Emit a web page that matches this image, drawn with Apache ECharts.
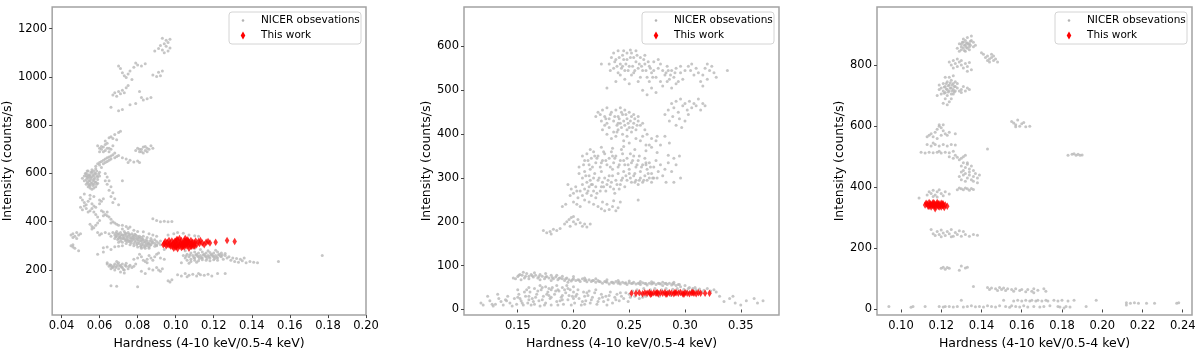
<!DOCTYPE html>
<html>
<head>
<meta charset="utf-8">
<script src="https://cdn.jsdelivr.net/npm/echarts@6.0.0/dist/echarts.min.js"></script>
<style>
  body { margin: 0; background: #fff; }
  #chart { width: 1200px; height: 355px; }
</style>
</head>
<body>
<div id="chart"></div>
<script>
// panel 1: hardness vs intensity, NICER points
var nicer1 = [
  [0.093,1160],[0.095,1152],[0.097,1156],[0.096,1143],[0.094,1138],[0.092,1130],[0.095,1127],[0.097,1120],[0.091,1118],[0.093,1112],[0.096,1108],[0.089,1108],[0.094,1100],
  [0.070,1045],[0.071,1035],[0.072,1018],[0.073,1005],[0.074,998],[0.075,1012],[0.076,1025],[0.078,1040],[0.079,1058],[0.080,1050],[0.082,1045],[0.077,990],[0.084,1055],
  [0.088,1008],[0.090,1002],[0.091,1020],[0.093,1025],[0.092,1005],
  [0.067,925],[0.068,935],[0.069,920],[0.070,940],[0.071,930],[0.072,945],[0.074,955],[0.075,965],[0.073,935],
  [0.081,940],[0.082,915],[0.083,905],[0.085,910],[0.087,915],
  [0.066,875],[0.070,860],[0.072,865],[0.076,885],[0.079,890],
  [0.063,735],[0.065,748],[0.066,752],[0.067,745],[0.068,762],[0.070,770],[0.071,775],[0.069,740],[0.064,725],
  [0.059,715],[0.060,705],[0.061,700],[0.062,710],[0.063,695],[0.064,705],[0.065,690],[0.066,700],[0.062,690],[0.060,690],[0.067,715],[0.068,685],[0.063,720],[0.061,712],[0.065,705],
  [0.079,695],[0.080,705],[0.081,690],[0.082,700],[0.083,710],[0.084,695],[0.085,705],[0.086,700],[0.087,715],[0.088,705],[0.083,685],[0.081,700],[0.085,690],[0.084,712],[0.082,690],
  [0.072,665],[0.074,660],[0.076,655],[0.078,648],[0.080,652],[0.081,645],[0.075,645],[0.070,675],[0.069,670],
  [0.058,630],[0.059,640],[0.060,645],[0.061,650],[0.062,655],[0.063,660],[0.064,665],[0.065,668],[0.066,672],[0.067,678],[0.060,635],[0.062,640],[0.064,650],[0.066,660],[0.068,665],[0.061,625],[0.063,645],[0.065,655],
  [0.052,590],[0.053,600],[0.054,610],[0.055,595],[0.056,605],[0.057,590],[0.058,600],[0.059,585],[0.053,575],[0.054,580],[0.055,570],[0.056,585],[0.057,575],[0.058,565],[0.059,575],[0.060,590],[0.054,560],[0.055,550],[0.056,560],[0.057,555],[0.058,545],[0.055,540],[0.056,535],[0.053,555],[0.052,570],[0.051,580],[0.054,595],[0.056,615],[0.058,620],[0.060,605],[0.057,610],[0.055,585],[0.059,560],[0.053,590],[0.057,540],[0.054,545],
  [0.0525,600],[0.0535,585],[0.0545,570],[0.0555,605],[0.0565,595],[0.0575,580],[0.0585,590],[0.0595,598],[0.0535,565],[0.0545,590],[0.0555,560],[0.0565,570],[0.0575,565],[0.0585,555],[0.0545,552],[0.0555,578],[0.0565,550],[0.0575,600],[0.0585,610],[0.0535,610],
  [0.063,600],[0.064,585],[0.065,570],[0.064,555],[0.066,545],[0.065,530],[0.067,520],[0.066,505],[0.068,495],[0.067,480],[0.063,570],[0.070,470],[0.072,570],
  [0.050,500],[0.051,490],[0.052,480],[0.053,470],[0.054,485],[0.055,495],[0.056,475],[0.057,465],[0.050,460],[0.051,450],[0.053,455],[0.055,445],[0.057,440],[0.058,430],[0.059,420],[0.056,455],[0.054,440],[0.052,465],[0.060,490],[0.061,485],[0.062,495],[0.060,475],[0.058,460],[0.052,515],[0.055,510],[0.057,505],
  [0.055,390],[0.056,380],[0.057,375],[0.058,385],[0.056,370],[0.059,395],[0.060,405],
  [0.061,445],[0.062,440],[0.063,430],[0.064,425],[0.065,420],[0.066,410],[0.067,400],[0.068,395],[0.069,390],[0.070,385],[0.072,385],[0.074,380],[0.076,378],[0.066,395],[0.064,440],[0.062,425],
  [0.068,345],[0.069,340],[0.070,350],[0.071,335],[0.072,345],[0.073,330],[0.074,340],[0.075,325],[0.076,335],[0.077,320],[0.078,330],[0.079,315],[0.080,325],[0.081,310],[0.082,320],[0.083,305],[0.084,315],[0.085,300],[0.086,310],[0.087,305],[0.088,315],
  [0.070,330],[0.071,320],[0.072,315],[0.073,345],[0.074,325],[0.075,340],[0.076,320],[0.077,335],[0.078,310],[0.079,335],[0.080,310],[0.081,330],[0.082,305],[0.083,325],[0.084,300],[0.085,320],
  [0.0685,338],[0.0695,326],[0.0705,342],[0.0715,328],[0.0725,338],[0.0735,322],[0.0745,333],[0.0755,318],[0.0765,328],[0.0775,342],[0.0785,322],[0.0795,328],[0.0805,318],[0.0815,322],[0.0825,312],[0.0835,318],[0.0845,308],[0.0855,312],[0.0865,320],[0.0875,312],
  [0.0685,352],[0.0695,348],[0.0705,336],[0.0715,346],[0.0725,330],[0.0735,352],[0.0745,318],[0.0755,348],[0.0765,312],[0.0775,328],[0.0785,348],[0.0795,305],[0.0805,335],[0.0815,298],[0.0825,328],[0.0835,295],[0.0845,325],[0.0855,308],[0.0865,302],[0.0875,322],
  [0.0890,310],[0.0900,318],[0.0910,312],[0.0920,320],[0.0890,298],[0.0900,305],
  [0.067,355],[0.069,360],[0.071,355],[0.073,360],[0.075,355],[0.077,350],[0.079,345],[0.081,340],[0.083,340],[0.085,335],[0.087,330],[0.089,325],
  [0.072,300],[0.074,310],[0.076,305],[0.078,300],[0.080,295],[0.082,290],[0.084,290],[0.086,295],
  [0.066,340],[0.068,330],[0.070,315],[0.065,350],[0.063,355],[0.061,350],[0.060,345],[0.059,355],
  [0.072,370],[0.075,372],[0.078,365],[0.080,360],[0.083,358],[0.086,350],[0.088,345],[0.090,340],
  [0.074,350],[0.076,345],[0.078,340],[0.080,340],[0.082,335],
  [0.045,345],[0.046,350],[0.047,340],[0.048,355],[0.049,345],[0.050,350],[0.046,335],[0.048,330],[0.045,300],[0.046,295],[0.047,290],[0.049,280],[0.046,305],
  [0.064,225],[0.065,215],[0.066,220],[0.067,210],[0.068,225],[0.069,215],[0.070,205],[0.071,220],[0.072,210],[0.073,200],[0.074,215],[0.075,205],[0.076,220],[0.066,205],[0.068,200],[0.070,230],[0.072,225],[0.074,228],[0.077,210],[0.078,215],[0.079,225],[0.064,230],[0.069,235],[0.071,192],[0.073,188],
  [0.0655,222],[0.0675,218],[0.0695,224],[0.0715,212],[0.0735,220],[0.0755,214],[0.0665,212],[0.0685,210],[0.0705,216],[0.0725,202],
  [0.078,245],[0.080,250],[0.082,255],[0.083,240],[0.084,235],[0.085,245],[0.086,260],[0.087,250],[0.088,240],[0.089,255],[0.090,265],[0.091,270],[0.085,230],[0.081,265],[0.092,250],[0.094,245],
  [0.086,205],[0.088,200],[0.090,210],[0.091,200],[0.093,205],[0.092,195],[0.082,195],[0.084,185],
  [0.096,155],[0.097,150],[0.098,160],[0.066,135],[0.069,133],[0.080,130],
  [0.082,295],[0.086,290],[0.090,300],[0.092,305],[0.094,285],[0.095,300],[0.064,295],[0.068,296],[0.070,298],[0.062,292],
  [0.104,260],[0.105,250],[0.106,265],[0.107,255],[0.108,245],[0.109,260],[0.110,250],[0.111,265],[0.112,255],[0.113,260],[0.114,250],[0.115,265],[0.116,255],[0.117,260],[0.118,250],[0.119,265],[0.120,255],[0.121,260],[0.122,250],[0.123,265],[0.124,255],[0.125,245],[0.126,260],[0.127,250],
  [0.1055,258],[0.1075,262],[0.1095,252],[0.1115,258],[0.1135,252],[0.1155,258],[0.1175,255],[0.1195,258],[0.1215,253],[0.1235,258],[0.1105,262],[0.1125,248],[0.1145,262],[0.1165,248],[0.1185,262],[0.1205,248],[0.1225,262],[0.1245,262],
  [0.108,270],[0.110,275],[0.112,270],[0.114,275],[0.116,270],[0.118,272],[0.120,270],[0.122,275],[0.124,270],[0.126,268],
  [0.106,240],[0.108,235],[0.110,240],[0.112,238],[0.114,242],[0.116,240],[0.118,238],[0.120,242],[0.122,240],[0.103,230],[0.107,228],[0.111,232],
  [0.113,285],[0.117,280],[0.121,282],[0.110,290],[0.105,280],
  [0.128,255],[0.130,250],[0.132,248],[0.134,245],[0.129,240],[0.131,235],[0.133,232],[0.135,238],[0.137,230],[0.139,235],[0.141,232],[0.143,230],[0.136,250],
  [0.154,235],[0.177,260],
  [0.101,180],[0.103,175],[0.105,185],[0.107,178],[0.109,182],[0.111,175],[0.113,180],[0.115,178],[0.117,182],[0.119,175],[0.112,185],[0.106,172],[0.122,185],[0.126,185],
  [0.088,412],[0.090,405],[0.092,400],[0.094,402],[0.096,400],[0.098,401],
  [0.096,345],[0.099,350],[0.101,355],[0.104,352],[0.107,345],[0.110,342],[0.112,340],
  [0.062,275],[0.059,265],[0.066,285]
];
var work1 = [
  [0.0935,305],[0.094,310],[0.095,300],[0.0955,315],[0.096,305],[0.097,310],[0.0975,298],[0.098,320],[0.0985,308],[0.099,312],[0.0995,300],[0.100,318],[0.1005,305],[0.101,325],[0.1015,310],[0.102,300],[0.1025,315],[0.103,322],[0.1035,305],[0.104,312],[0.1045,295],[0.105,318],[0.1055,308],[0.106,325],[0.1065,300],[0.107,315],[0.1075,310],[0.108,322],[0.1085,305],[0.109,315],[0.1095,300],[0.110,312],[0.1105,320],[0.111,305],[0.112,318],[0.1125,310],[0.113,322],[0.114,312],[0.115,305],[0.116,315],[0.117,318],[0.118,312],[0.121,315],[0.127,322],[0.131,318],
  [0.100,295],[0.102,330],[0.104,300],[0.106,310],[0.108,298],[0.099,290],[0.101,288],[0.103,293],[0.097,302],[0.105,330],[0.107,290],[0.110,300],
  [0.0945,318],[0.0965,322],[0.0985,298],[0.1005,325],[0.1025,308],[0.1045,320],[0.1065,315],[0.1085,312],[0.1005,298],[0.1035,296],[0.1055,300],[0.0995,318],[0.1015,302],[0.1045,305],[0.1065,322],[0.1085,298]
];

// panel 2
var nicer2 = [
  [0.232,560],[0.234,575],[0.236,585],[0.238,570],[0.240,590],[0.242,560],[0.244,580],[0.246,545],[0.248,570],[0.250,555],[0.252,585],[0.254,540],[0.256,565],[0.258,550],[0.260,575],[0.262,545],[0.264,560],[0.266,530],[0.268,555],[0.270,540],[0.272,565],[0.274,530],[0.276,550],[0.278,520],[0.280,545],[0.282,535],[0.284,555],[0.286,525],[0.288,545],[0.290,530],[0.292,550],[0.294,520],[0.296,540],[0.298,525],[0.300,545],
  [0.236,550],[0.240,540],[0.244,555],[0.248,585],[0.252,535],[0.256,590],[0.260,530],[0.264,580],[0.268,520],[0.272,545],[0.276,570],[0.280,510],[0.284,520],[0.288,505],[0.292,515],[0.296,555],[0.246,525],[0.250,515],[0.254,575],[0.258,520],[0.262,500],[0.266,490],[0.270,505],[0.274,495],[0.278,560],[0.242,535],[0.238,520],[0.233,545],[0.230,505],[0.225,560],
  [0.241,575],[0.243,550],[0.245,570],[0.247,560],[0.249,545],[0.251,575],[0.253,555],[0.255,545],[0.257,580],[0.259,560],[0.261,555],[0.263,570],[0.265,545],[0.267,565],[0.269,550],[0.271,530],[0.245,590],[0.251,592],[0.239,555],[0.237,565],[0.283,540],[0.287,535],[0.291,540],[0.285,545],
  [0.305,545],[0.308,535],[0.310,550],[0.312,540],[0.314,520],[0.316,510],[0.318,550],[0.320,560],[0.322,545],[0.324,555],[0.326,540],[0.328,530],[0.316,535],[0.320,525],[0.338,545],[0.303,555],[0.306,560],
  [0.282,445],[0.285,455],[0.288,470],[0.290,460],[0.292,475],[0.294,450],[0.296,480],[0.298,465],[0.300,470],[0.302,455],[0.304,475],[0.306,460],[0.308,470],[0.310,465],[0.312,480],[0.314,455],[0.316,470],[0.318,465],[0.295,435],[0.292,420],[0.297,415],[0.300,430],[0.289,440],[0.286,430],[0.303,445],
  [0.220,440],[0.222,450],[0.224,445],[0.226,455],[0.228,440],[0.230,460],[0.232,435],[0.234,450],[0.236,430],[0.238,455],[0.240,440],[0.242,425],[0.244,445],[0.246,420],[0.248,435],[0.250,415],[0.252,440],[0.254,425],[0.256,410],[0.258,430],[0.260,420],
  [0.228,420],[0.232,415],[0.236,405],[0.240,410],[0.244,400],[0.248,395],[0.252,405],[0.256,390],[0.238,395],[0.234,390],[0.230,400],[0.226,410],[0.242,460],[0.246,455],[0.250,450],[0.254,445],[0.258,440],[0.262,425],[0.264,410],[0.230,425],[0.240,425],[0.248,410],[0.245,385],[0.250,380],
  [0.237,440],[0.239,420],[0.241,435],[0.243,415],[0.245,430],[0.247,445],[0.249,425],[0.251,430],[0.253,415],[0.255,435],[0.233,445],[0.229,435],[0.225,430],[0.257,420],[0.243,450],[0.239,405],
  [0.262,395],[0.266,400],[0.270,390],[0.274,385],[0.278,375],[0.268,375],[0.260,385],[0.275,395],[0.282,395],[0.286,380],
  [0.208,350],[0.210,340],[0.212,355],[0.214,330],[0.216,345],[0.218,360],[0.220,335],[0.222,350],[0.224,325],[0.226,340],[0.228,355],[0.230,330],[0.232,345],[0.234,360],[0.236,335],[0.238,350],[0.240,325],[0.242,340],[0.244,355],[0.246,330],[0.248,345],[0.250,320],[0.252,335],[0.254,350],[0.256,325],[0.258,340],[0.260,315],[0.262,330],[0.264,345],[0.266,320],[0.268,335],[0.270,310],[0.272,325],[0.274,340],[0.276,315],[0.278,330],[0.280,305],[0.282,320],[0.285,335],[0.288,315],[0.290,345],[0.292,330],
  [0.205,310],[0.208,300],[0.210,315],[0.212,290],[0.214,305],[0.216,285],[0.218,300],[0.220,280],[0.222,295],[0.224,270],[0.226,290],[0.228,300],[0.230,285],[0.232,305],[0.234,290],[0.236,275],[0.238,295],[0.240,310],[0.242,285],[0.244,300],[0.246,280],[0.248,295],[0.250,310],[0.252,290],[0.254,305],[0.256,295],[0.258,285],[0.260,300],[0.262,290],[0.264,305],[0.266,295],[0.268,300],[0.270,290],[0.272,300],
  [0.209,330],[0.213,340],[0.217,325],[0.221,345],[0.225,335],[0.229,340],[0.233,325],[0.237,345],[0.241,330],[0.245,340],[0.249,330],[0.253,340],[0.257,330],[0.261,325],[0.265,335],[0.269,325],
  [0.211,305],[0.215,295],[0.219,310],[0.223,300],[0.227,280],[0.231,295],[0.235,305],[0.239,285],[0.243,295],[0.247,305],[0.251,300],[0.255,290],[0.259,295],[0.263,295],[0.267,310],[0.271,300],
  [0.213,270],[0.217,285],[0.221,265],[0.225,280],[0.229,270],[0.233,280],[0.237,265],[0.241,275],[0.208,285],[0.203,270],
  [0.219,350],[0.227,360],[0.235,350],[0.243,365],[0.251,355],[0.259,350],
  [0.215,365],[0.225,370],[0.235,368],[0.245,372],[0.255,365],[0.265,362],[0.275,358],[0.285,352],[0.295,350],[0.265,375],[0.270,370],
  [0.205,325],[0.215,320],[0.225,315],[0.235,320],[0.245,315],[0.255,310],[0.265,330],[0.275,300],[0.283,290],[0.290,290],[0.296,300],
  [0.195,285],[0.198,275],[0.200,265],[0.202,280],[0.204,255],[0.206,270],[0.208,260],[0.210,250],[0.212,265],[0.214,245],[0.216,260],[0.218,240],[0.220,255],[0.197,260],[0.200,245],[0.203,240],[0.206,235],[0.193,240],[0.190,235],[0.210,275],[0.214,280],[0.218,270],
  [0.222,235],[0.225,230],[0.228,225],[0.230,240],[0.232,228],[0.235,235],[0.238,225],[0.240,232],[0.226,245],[0.236,248],[0.242,245],[0.258,250],
  [0.192,195],[0.194,200],[0.196,205],[0.198,210],[0.200,200],[0.202,195],[0.204,205],[0.206,198],[0.208,190],[0.210,195],[0.212,188],[0.200,212],[0.197,190],[0.215,195],
  [0.173,180],[0.176,175],[0.179,178],[0.182,183],[0.185,180],[0.188,185],[0.180,172],
  [0.150,75],[0.152,80],[0.154,78],[0.156,72],[0.158,82],[0.160,76],[0.162,80],[0.164,74],[0.166,78],[0.168,72],[0.170,80],[0.172,76],[0.174,70],[0.176,75],[0.178,72],[0.180,78],[0.182,70],[0.184,74],[0.186,68],[0.188,72],[0.190,70],[0.192,66],[0.194,72],[0.196,68],[0.198,65],[0.200,70],[0.202,66],[0.204,68],[0.206,64],[0.208,70],[0.210,66],[0.212,63],[0.214,68],[0.216,64],[0.218,66],[0.220,62],[0.222,66],[0.224,63],[0.226,60],[0.228,64],[0.230,62],[0.232,58],[0.234,62],[0.236,60],[0.238,64],[0.240,60],[0.242,58],[0.244,62],[0.246,60],[0.248,57],[0.250,61],[0.252,59],[0.254,62],[0.256,58],[0.258,60],[0.260,57],[0.262,61],[0.264,59],[0.266,56],[0.268,60],[0.270,58],[0.272,61],[0.274,57],[0.276,60],[0.278,58],[0.280,55],[0.282,59],[0.284,57],[0.286,60],[0.288,56],[0.290,58],[0.292,55],[0.294,57],[0.296,52],[0.300,55],[0.304,50],[0.307,48],[0.310,45],
  [0.155,85],[0.160,70],[0.165,84],[0.170,68],[0.175,82],[0.180,66],[0.185,78],[0.190,76],[0.195,62],[0.200,75],[0.210,72],[0.220,70],[0.230,68],[0.240,66],[0.250,65],[0.260,64],[0.270,63],[0.280,62],[0.290,62],[0.148,70],[0.153,68],[0.146,72],
  [0.151,78],[0.157,76],[0.163,77],[0.169,75],[0.175,74],[0.181,73],[0.187,71],[0.193,70],[0.199,68],[0.205,67],[0.211,68],[0.217,66],[0.223,64],[0.229,63],[0.235,62],[0.241,62],[0.247,61],[0.253,60],[0.259,60],[0.265,59],[0.271,60],[0.277,59],[0.283,60],[0.289,59],[0.295,57],
  [0.117,15],[0.119,10],[0.125,20],[0.128,8],[0.130,12],[0.133,25],[0.135,18],[0.137,10],[0.139,22],[0.141,30],[0.143,15],[0.145,8],[0.147,25],[0.149,12],[0.151,35],[0.153,20],[0.155,10],[0.157,30],[0.159,15],[0.161,40],[0.163,25],[0.165,12],[0.167,35],[0.169,20],[0.171,45],[0.173,30],[0.175,15],[0.177,40],[0.179,25],[0.181,50],[0.183,35],[0.185,18],[0.187,42],[0.189,28],[0.191,12],[0.193,38],[0.195,22],[0.197,45],[0.199,30],[0.201,15],[0.203,35],[0.205,25],[0.207,10],[0.209,40],[0.211,20],[0.213,32],[0.215,15],[0.217,28],[0.219,38],[0.221,12],[0.223,25],[0.225,35],[0.227,18],[0.229,30],[0.231,22],[0.233,40],[0.235,15],[0.237,28],[0.239,35],[0.241,20],[0.243,30],[0.245,25],[0.247,38],[0.249,18],[0.251,28],[0.253,42],[0.255,30],[0.257,45],[0.259,25],[0.261,35],[0.263,48],[0.265,30],[0.267,40],[0.269,45],[0.271,35],[0.273,48],[0.275,42],[0.277,30],[0.279,45],[0.281,38],[0.283,48],[0.285,42],[0.287,32],[0.289,46],[0.291,40],[0.293,48],[0.295,43],[0.297,35],[0.299,46],[0.301,42],[0.303,48],[0.305,40],[0.307,45],[0.309,50],[0.311,42],[0.313,47],[0.315,40],[0.317,44],[0.320,48],[0.323,42],[0.326,45],[0.328,40],[0.331,30],
  [0.150,45],[0.160,50],[0.170,55],[0.175,52],[0.180,45],[0.185,55],[0.190,50],[0.195,48],[0.200,52],[0.160,22],[0.170,8],[0.180,10],[0.190,32],[0.200,40],[0.210,30],[0.220,45],[0.230,10],[0.150,28],[0.140,20],[0.132,35],[0.127,12],[0.123,30],[0.158,45],[0.165,48],[0.172,50],[0.178,48],[0.186,45],[0.194,55],
  [0.152,25],[0.156,40],[0.160,30],[0.164,18],[0.168,42],[0.172,22],[0.176,35],[0.180,28],[0.184,42],[0.188,20],[0.192,45],[0.196,32],[0.200,25],[0.204,45],[0.208,18],[0.212,38],[0.216,22],[0.154,15],[0.162,10],[0.174,10],[0.186,10],[0.198,10],[0.210,12],[0.222,18],[0.232,32],[0.242,38],[0.166,28],[0.178,32],[0.190,22],[0.202,30],[0.214,42],[0.226,28],[0.238,22],[0.250,35],[0.262,28],[0.274,35],[0.286,40],
  [0.340,25],[0.345,15],[0.350,10],[0.355,20],[0.362,25],[0.365,15],[0.370,20],[0.343,30],[0.335,18]
];
var work2 = [
  [0.252,37],[0.256,37],[0.259,38],[0.262,36],[0.264,38],[0.266,37],[0.268,39],[0.270,36],[0.272,38],[0.274,37],[0.276,36],[0.278,38],[0.280,37],[0.282,39],[0.284,36],[0.286,38],[0.288,37],[0.290,36],[0.292,38],[0.294,37],[0.296,39],[0.298,36],[0.300,38],[0.302,37],[0.304,36],[0.306,38],[0.308,37],[0.310,36],[0.312,38],[0.314,37],[0.318,37],[0.322,37],[0.269,35],[0.275,39],[0.283,35],[0.291,39],[0.299,35],[0.307,39]
];

// panel 3
var nicer3 = [
  [0.129,870],[0.130,860],[0.131,875],[0.132,865],[0.133,855],[0.134,870],[0.135,880],[0.130,850],[0.132,845],[0.134,850],[0.136,860],[0.131,885],[0.133,890],[0.135,895],[0.128,855],[0.129,845],[0.136,875],[0.137,865],[0.132,880],[0.134,860],[0.130,868],[0.131,856],[0.133,872],
  [0.1305,875],[0.1315,865],[0.1325,858],[0.1335,868],[0.1345,878],[0.1315,848],[0.1325,872],[0.1345,865],
  [0.124,810],[0.125,800],[0.126,815],[0.127,805],[0.128,795],[0.129,810],[0.130,800],[0.131,790],[0.132,805],[0.133,795],[0.134,808],[0.135,785],[0.128,820],[0.126,790],[0.130,815],[0.133,780],
  [0.141,835],[0.142,825],[0.143,830],[0.144,820],[0.145,825],[0.146,815],[0.147,820],[0.148,810],[0.143,815],[0.145,835],[0.140,840],[0.146,830],[0.144,810],
  [0.119,720],[0.120,725],[0.121,715],[0.122,730],[0.123,720],[0.124,735],[0.125,725],[0.126,740],[0.127,730],[0.122,710],[0.123,700],[0.124,715],[0.125,705],[0.126,720],[0.121,740],[0.123,745],[0.125,750],[0.127,745],[0.128,725],[0.129,715],[0.130,720],[0.131,730],[0.133,725],[0.134,720],[0.120,705],[0.122,690],[0.124,680],[0.121,675],[0.123,670],[0.125,690],[0.126,765],[0.124,760],[0.128,740],[0.119,735],[0.126,705],[0.127,715],[0.130,710],[0.132,715],[0.122,760],[0.118,700],
  [0.1215,728],[0.1225,722],[0.1235,732],[0.1245,725],[0.1255,715],[0.1265,730],[0.1225,740],[0.1235,712],[0.1245,742],[0.1255,735],[0.1215,708],[0.1265,712],
  [0.155,615],[0.156,610],[0.157,605],[0.158,620],[0.159,600],[0.160,608],[0.162,598],[0.164,600],[0.161,612],[0.157,598],
  [0.183,505],[0.185,508],[0.186,510],[0.187,505],[0.188,508],[0.189,505],[0.190,506],
  [0.143,525],
  [0.113,565],[0.114,570],[0.115,575],[0.116,565],[0.117,580],[0.118,590],[0.119,600],[0.120,595],[0.121,585],[0.122,575],[0.123,570],[0.120,570],[0.118,560],[0.124,580],[0.119,605],[0.121,605],[0.127,575],
  [0.113,540],[0.115,535],[0.117,540],[0.119,535],[0.121,540],[0.123,535],[0.125,540],[0.127,538],[0.116,545],
  [0.110,515],[0.112,512],[0.114,515],[0.116,513],[0.118,515],[0.120,512],[0.122,515],[0.124,513],[0.126,518],[0.119,518],
  [0.124,500],[0.126,495],[0.127,505],[0.128,498],[0.130,495],[0.131,500],[0.132,505],[0.129,490],[0.133,480],
  [0.130,470],[0.131,480],[0.132,465],[0.133,475],[0.134,460],[0.135,470],[0.136,455],[0.130,450],[0.131,440],[0.132,445],[0.133,430],[0.134,440],[0.135,425],[0.136,435],[0.137,445],[0.138,430],[0.129,435],[0.130,425],[0.132,420],[0.134,450],[0.136,420],[0.139,440],[0.138,415],[0.131,455],
  [0.129,398],[0.130,395],[0.131,392],[0.132,398],[0.133,395],[0.134,390],[0.135,396],[0.136,393],[0.128,392],
  [0.113,375],[0.114,385],[0.115,380],[0.116,390],[0.117,375],[0.118,385],[0.119,392],[0.120,380],[0.121,372],[0.122,385],[0.116,370],[0.124,378],
  [0.109,365],[0.118,368],
  [0.115,262],[0.116,248],[0.118,255],[0.119,245],[0.120,260],[0.121,250],[0.122,242],[0.123,255],[0.124,248],[0.125,262],[0.126,240],[0.127,252],[0.128,245],[0.129,258],[0.130,240],[0.131,255],[0.132,245],[0.134,240],[0.136,245],[0.138,243],[0.117,242],[0.120,238],[0.125,238],
  [0.120,135],[0.121,138],[0.122,132],[0.123,137],[0.124,135],[0.129,128],[0.130,142],[0.132,136],[0.133,138],
  [0.136,75],[0.143,72],[0.144,65],[0.145,70],[0.147,68],[0.148,62],[0.149,72],[0.150,65],[0.151,70],[0.152,62],[0.153,68],[0.155,65],[0.156,60],[0.157,68],[0.159,62],[0.160,65],[0.162,58],[0.163,65],[0.165,60],[0.166,68],[0.168,63],[0.171,68],[0.172,60],[0.166,55],
  [0.094,10],[0.105,7],[0.106,10],[0.112,10],[0.119,10],[0.121,8],[0.122,10],[0.124,10],[0.126,8],[0.128,10],[0.130,30],[0.131,8],[0.133,10],[0.135,12],[0.137,9],[0.139,10],[0.141,8],[0.143,12],[0.145,10],[0.147,8],[0.149,12],[0.151,30],[0.152,10],[0.154,7],[0.155,12],[0.156,28],[0.157,10],[0.158,30],[0.159,8],[0.160,28],[0.161,12],[0.162,30],[0.163,8],[0.164,28],[0.165,30],[0.166,10],[0.167,28],[0.168,30],[0.169,8],[0.170,28],[0.171,10],[0.172,30],[0.173,28],[0.174,12],[0.176,30],[0.178,28],[0.178,10],[0.179,8],[0.180,30],[0.181,5],[0.182,10],[0.183,28],[0.184,8],[0.186,30],[0.192,10],[0.197,30],[0.212,15],[0.212,22],[0.214,20],[0.216,22],[0.218,20],[0.222,20],[0.226,20],[0.237,20],[0.238,22]
];
var work3 = [
  [0.1120,342],[0.1125,348],[0.1130,345],[0.1135,338],[0.1140,350],[0.1145,342],[0.1150,335],[0.1155,345],[0.1160,340],[0.1165,348],[0.1170,336],[0.1175,344],[0.1180,350],[0.1185,338],[0.1190,345],[0.1195,340],[0.1200,335],[0.1205,346],[0.1210,340],[0.1215,334],[0.1220,342],[0.1230,338],[0.1140,338],[0.1160,350],[0.1180,342],[0.1200,348],[0.1170,330],[0.1190,335],[0.1210,345],
  [0.1145,346],[0.1165,342],[0.1185,346],[0.1205,340],[0.1155,340]
];

// ticks
var xTicks1 = [0.04, 0.06, 0.08, 0.10, 0.12, 0.14, 0.16, 0.18, 0.20];
var yTicks1 = [200, 400, 600, 800, 1000, 1200];
var xTicks2 = [0.15, 0.20, 0.25, 0.30, 0.35];
var yTicks2 = [0, 100, 200, 300, 400, 500, 600];
var xTicks3 = [0.10, 0.12, 0.14, 0.16, 0.18, 0.20, 0.22, 0.24];
var yTicks3 = [0, 200, 400, 600, 800];

var xName = 'Hardness (4-10 keV/0.5-4 keV)';
var yName = 'Intensity (counts/s)';
var grayName = 'NICER obsevations';
var redName = 'This work';

var font = 'DejaVu Sans';
var panels = [
  { left: 51, xMin: 0.0351, xMax: 0.2, yMin: 13, yMax: 1290, xTicks: xTicks1, yTicks: yTicks1, nameGap: 36, gray: nicer1, red: work1 },
  { left: 464, xMin: 0.1018, xMax: 0.3843, yMin: -12.8, yMax: 690, xTicks: xTicks2, yTicks: yTicks2, nameGap: 30, gray: nicer2, red: work2 },
  { left: 877, xMin: 0.0881, xMax: 0.2446, yMin: -18.4, yMax: 990, xTicks: xTicks3, yTicks: yTicks3, nameGap: 30, gray: nicer3, red: work3 }
];

var grids = [], xAxes = [], yAxes = [], series = [], graphics = [];

panels.forEach(function (p, i) {
  grids.push({
    left: p.left, top: 7, width: 315, height: 312,
    show: true, borderColor: '#a3a3a3', borderWidth: 1.5, backgroundColor: '#fff'
  });
  xAxes.push({
    type: 'value', gridIndex: i, min: p.xMin, max: p.xMax,
    name: xName, nameLocation: 'middle', nameGap: 15,
    nameTextStyle: { fontFamily: font, fontSize: 12.5, color: '#000', verticalAlign: 'top' },
    axisLine: { show: false },
    splitLine: { show: false },
    axisTick: { show: true, length: 3, lineStyle: { color: '#444' }, customValues: p.xTicks },
    axisLabel: {
      customValues: p.xTicks, margin: 5, fontFamily: font, fontSize: 11.5, color: '#000',
      formatter: function (v) { return v.toFixed(2); }
    }
  });
  yAxes.push({
    type: 'value', gridIndex: i, min: p.yMin, max: p.yMax,
    name: yName, nameLocation: 'middle', nameGap: p.nameGap,
    nameTextStyle: { fontFamily: font, fontSize: 12.5, color: '#000' },
    axisLine: { show: false },
    splitLine: { show: false },
    axisTick: { show: true, length: 3, lineStyle: { color: '#444' }, customValues: p.yTicks },
    axisLabel: {
      customValues: p.yTicks, margin: 5, fontFamily: font, fontSize: 11.5, color: '#000',
      formatter: function (v) { return String(v); }
    }
  });
  series.push({
    name: grayName, type: 'scatter', xAxisIndex: i, yAxisIndex: i,
    data: p.gray, symbol: 'circle', symbolSize: 3,
    itemStyle: { color: '#b8b8b8' }
  });
  series.push({
    name: redName, type: 'scatter', xAxisIndex: i, yAxisIndex: i,
    data: p.red, symbol: 'diamond', symbolSize: [4.5, 7.5],
    itemStyle: { color: '#ff0000' }
  });

  // legend box in the top right of each panel
  var L = p.left + 178;
  graphics.push({
    type: 'rect', shape: { x: L, y: 12, width: 132, height: 32, r: 3 },
    style: { fill: 'rgba(255,255,255,0.85)', stroke: '#d4d4d4', lineWidth: 1 }, z: 100
  });
  graphics.push({
    type: 'circle', shape: { cx: L + 14, cy: 20.5, r: 1.3 },
    style: { fill: '#b3b3b3' }, z: 101
  });
  graphics.push({
    type: 'polygon', shape: { points: [[L + 14, 31.5], [L + 16.3, 35.5], [L + 14, 39.5], [L + 11.7, 35.5]] },
    style: { fill: '#ff0000' }, z: 101
  });
  graphics.push({
    type: 'text', x: L + 32, y: 20.5,
    style: { text: grayName, font: '10.5px "DejaVu Sans"', fill: '#000', verticalAlign: 'middle' }, z: 101
  });
  graphics.push({
    type: 'text', x: L + 32, y: 35.5,
    style: { text: redName, font: '10.5px "DejaVu Sans"', fill: '#000', verticalAlign: 'middle' }, z: 101
  });
});

var myChart = echarts.init(document.getElementById('chart'));
myChart.setOption({
  animation: false,
  backgroundColor: '#fff',
  grid: grids,
  xAxis: xAxes,
  yAxis: yAxes,
  series: series,
  graphic: graphics
});
</script>
</body>
</html>
